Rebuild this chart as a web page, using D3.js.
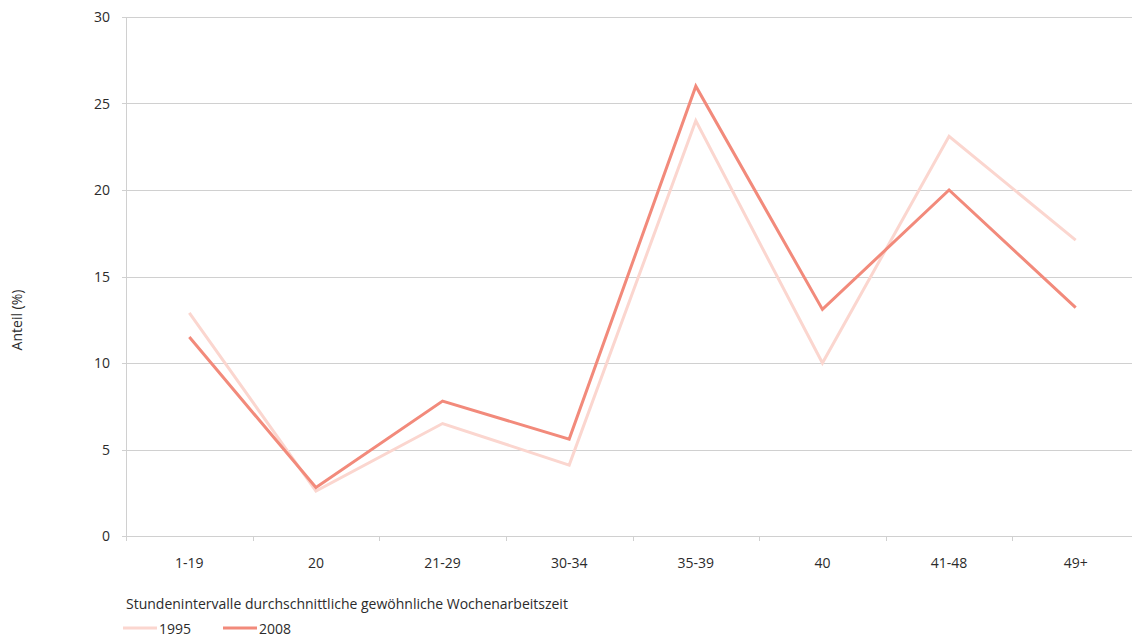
<!DOCTYPE html>
<html><head><meta charset="utf-8">
<script src="https://cdn.jsdelivr.net/npm/d3@7"></script>
<style>body{margin:0;background:#fff;} text{font-family:"Open Sans","Noto Sans",sans-serif;fill:#2b2b2b;}</style>
</head><body>
<svg id="c" width="1132" height="637"></svg>
<script>
const categories = ["1-19","20","21-29","30-34","35-39","40","41-48","49+"];
const values1995 = [12.9, 2.6, 6.5, 4.1, 24.0, 10.0, 23.1, 17.1];
const values2008 = [11.5, 2.8, 7.8, 5.6, 26.0, 13.1, 20.0, 13.2];
const seriesNames = ["1995","2008"];
const yTicks = [0,5,10,15,20,25,30];
const colors = ["#fbd6cf","#f28a7b"];

const svg = d3.select("#c");
const mLeft = 126, mRight = 1139, mTop = 17, mBottom = 536;
const x = d3.scaleBand().domain(categories).range([mLeft, mRight]);
const y = d3.scaleLinear().domain([0,30]).range([mBottom, mTop]);

// gridlines
svg.append("g").selectAll("line").data(yTicks).join("line")
  .attr("x1", mLeft-4).attr("x2", 1132)
  .attr("y1", d=>Math.round(y(d))+0.5).attr("y2", d=>Math.round(y(d))+0.5)
  .attr("stroke", "#d0d0d0").attr("stroke-width", 1);
// y axis line
svg.append("line").attr("x1", mLeft+0.5).attr("x2", mLeft+0.5).attr("y1", mTop).attr("y2", mBottom+5)
  .attr("stroke","#d0d0d0");
// x tick marks at band boundaries
const bounds = categories.map(c=>x(c)).concat([x(categories[categories.length-1])+x.bandwidth()]);
svg.append("g").selectAll("line").data(bounds.slice(1)).join("line")
  .attr("x1", d=>Math.round(d)+0.5).attr("x2", d=>Math.round(d)+0.5)
  .attr("y1", mBottom).attr("y2", mBottom+5).attr("stroke","#d0d0d0");
// y tick labels
svg.append("g").selectAll("text").data(yTicks).join("text")
  .attr("x", 110).attr("y", d=>y(d)+5).attr("text-anchor","end")
  .attr("font-size", 14).text(d=>d);
// x tick labels
svg.append("g").selectAll("text").data(categories).join("text")
  .attr("x", d=>x(d)+x.bandwidth()/2).attr("y", 568).attr("text-anchor","middle")
  .attr("font-size", 14).text(d=>d);
// y axis title
svg.append("text").attr("transform","translate(22,320) rotate(-90)")
  .attr("text-anchor","middle").attr("font-size",14).text("Anteil (%)");
// x axis title
svg.append("text").attr("x",126).attr("y",609).attr("font-size",14)
  .text("Stundenintervalle durchschnittliche gewöhnliche Wochenarbeitszeit");

const line = d3.line().x((d,i)=>x(categories[i])+x.bandwidth()/2).y(d=>y(d));
[values1995, values2008].forEach((vals,i)=>{
  svg.append("path").attr("d", line(vals)).attr("fill","none")
    .attr("stroke", colors[i]).attr("stroke-width", 3).attr("stroke-linejoin","miter");
});

// legend
const lg = svg.append("g").selectAll("g").data(seriesNames).join("g")
  .attr("transform",(d,i)=>`translate(${123+i*100},628)`);
lg.append("line").attr("x1",0).attr("x2",34).attr("y1",0).attr("y2",0)
  .attr("stroke",(d,i)=>colors[i]).attr("stroke-width",3);
lg.append("text").attr("x",36).attr("y",6).attr("font-size",14).text(d=>d);
</script>
</body></html>
